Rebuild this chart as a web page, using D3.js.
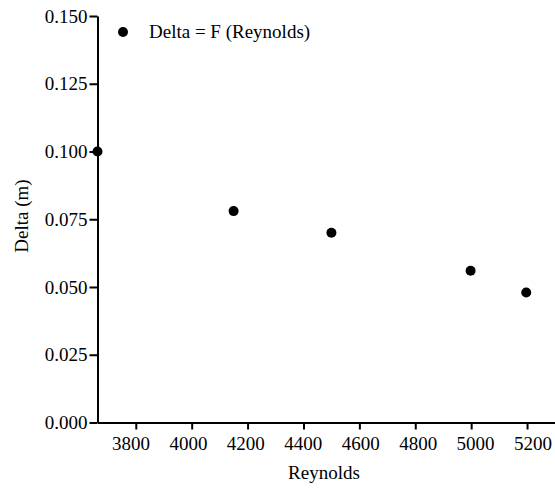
<!DOCTYPE html>
<html>
<head>
<meta charset="utf-8">
<script src="https://cdn.jsdelivr.net/npm/d3@7"></script>
<style>
  body { margin: 0; background: #fff; }
  svg text { fill: #000; }
</style>
</head>
<body>
<div id="chart"></div>
<script>
// Delta vs Reynolds scatter
var reynolds = [3663, 4150, 4500, 4998, 5197];
var delta = [0.100, 0.078, 0.070, 0.056, 0.048];
var xTicks = [3800, 4000, 4200, 4400, 4600, 4800, 5000, 5200];
var yTicks = [0.000, 0.025, 0.050, 0.075, 0.100, 0.125, 0.150];
var legendLabel = "Delta = F (Reynolds)";

var serif = "'Liberation Serif', 'Times New Roman', Times, 'DejaVu Serif', serif";

var svgWidth = 555;
var svgHeight = 489;

var svg = d3.select("#chart")
  .append("svg")
  .attr("width", svgWidth)
  .attr("height", svgHeight)
  .style("font-family", serif);

var xScale = d3.scaleLinear()
  .domain([3663, 5300])
  .range([97.5, 555]);

// the original spreads its tick labels a little wider than the ticks
var xLabelScale = d3.scaleLinear()
  .domain([3800, 5200])
  .range([130.5, 532.5]);

var yScale = d3.scaleLinear()
  .domain([0, 0.15])
  .range([422.5, 16]);

// axes
var bottomAxis = d3.axisBottom(xScale)
  .tickValues(xTicks)
  .tickFormat(d3.format("d"))
  .tickSize(7)
  .tickPadding(7)
  .tickSizeOuter(0);

var leftAxis = d3.axisLeft(yScale)
  .tickValues(yTicks)
  .tickFormat(d3.format(".3f"))
  .tickSize(8)
  .tickPadding(2)
  .tickSizeOuter(0);

var gx = svg.append("g")
  .attr("transform", `translate(0, ${yScale(0)})`)
  .call(bottomAxis);

gx.selectAll(".tick text")
  .attr("x", d => xLabelScale(d) - xScale(d));

var gy = svg.append("g")
  .attr("transform", `translate(${xScale(3663)}, 0)`)
  .call(leftAxis);

[gx, gy].forEach(function(g) {
  g.attr("font-family", null).attr("font-size", null);
  g.selectAll("path, line").attr("stroke", "#000").attr("stroke-width", 2);
  g.selectAll("text")
    .style("font-family", serif)
    .style("font-size", "19px");
});

// points
svg.selectAll("circle.pt")
  .data(reynolds)
  .enter()
  .append("circle")
  .attr("class", "pt")
  .attr("cx", d => xScale(d))
  .attr("cy", (d, i) => yScale(delta[i]))
  .attr("r", 5)
  .attr("fill", "#000");

// legend
svg.append("circle")
  .attr("cx", 123)
  .attr("cy", 32)
  .attr("r", 5)
  .attr("fill", "#000");

svg.append("text")
  .attr("x", 149)
  .attr("y", 38)
  .style("font-family", serif)
  .style("font-size", "19px")
  .text(legendLabel);

// axis labels
svg.append("text")
  .attr("x", 324)
  .attr("y", 479)
  .attr("text-anchor", "middle")
  .style("font-family", serif)
  .style("font-size", "19px")
  .text("Reynolds");

svg.append("text")
  .attr("transform", "translate(28, 216) rotate(-90)")
  .attr("text-anchor", "middle")
  .style("font-family", serif)
  .style("font-size", "19px")
  .text("Delta (m)");
</script>
</body>
</html>
